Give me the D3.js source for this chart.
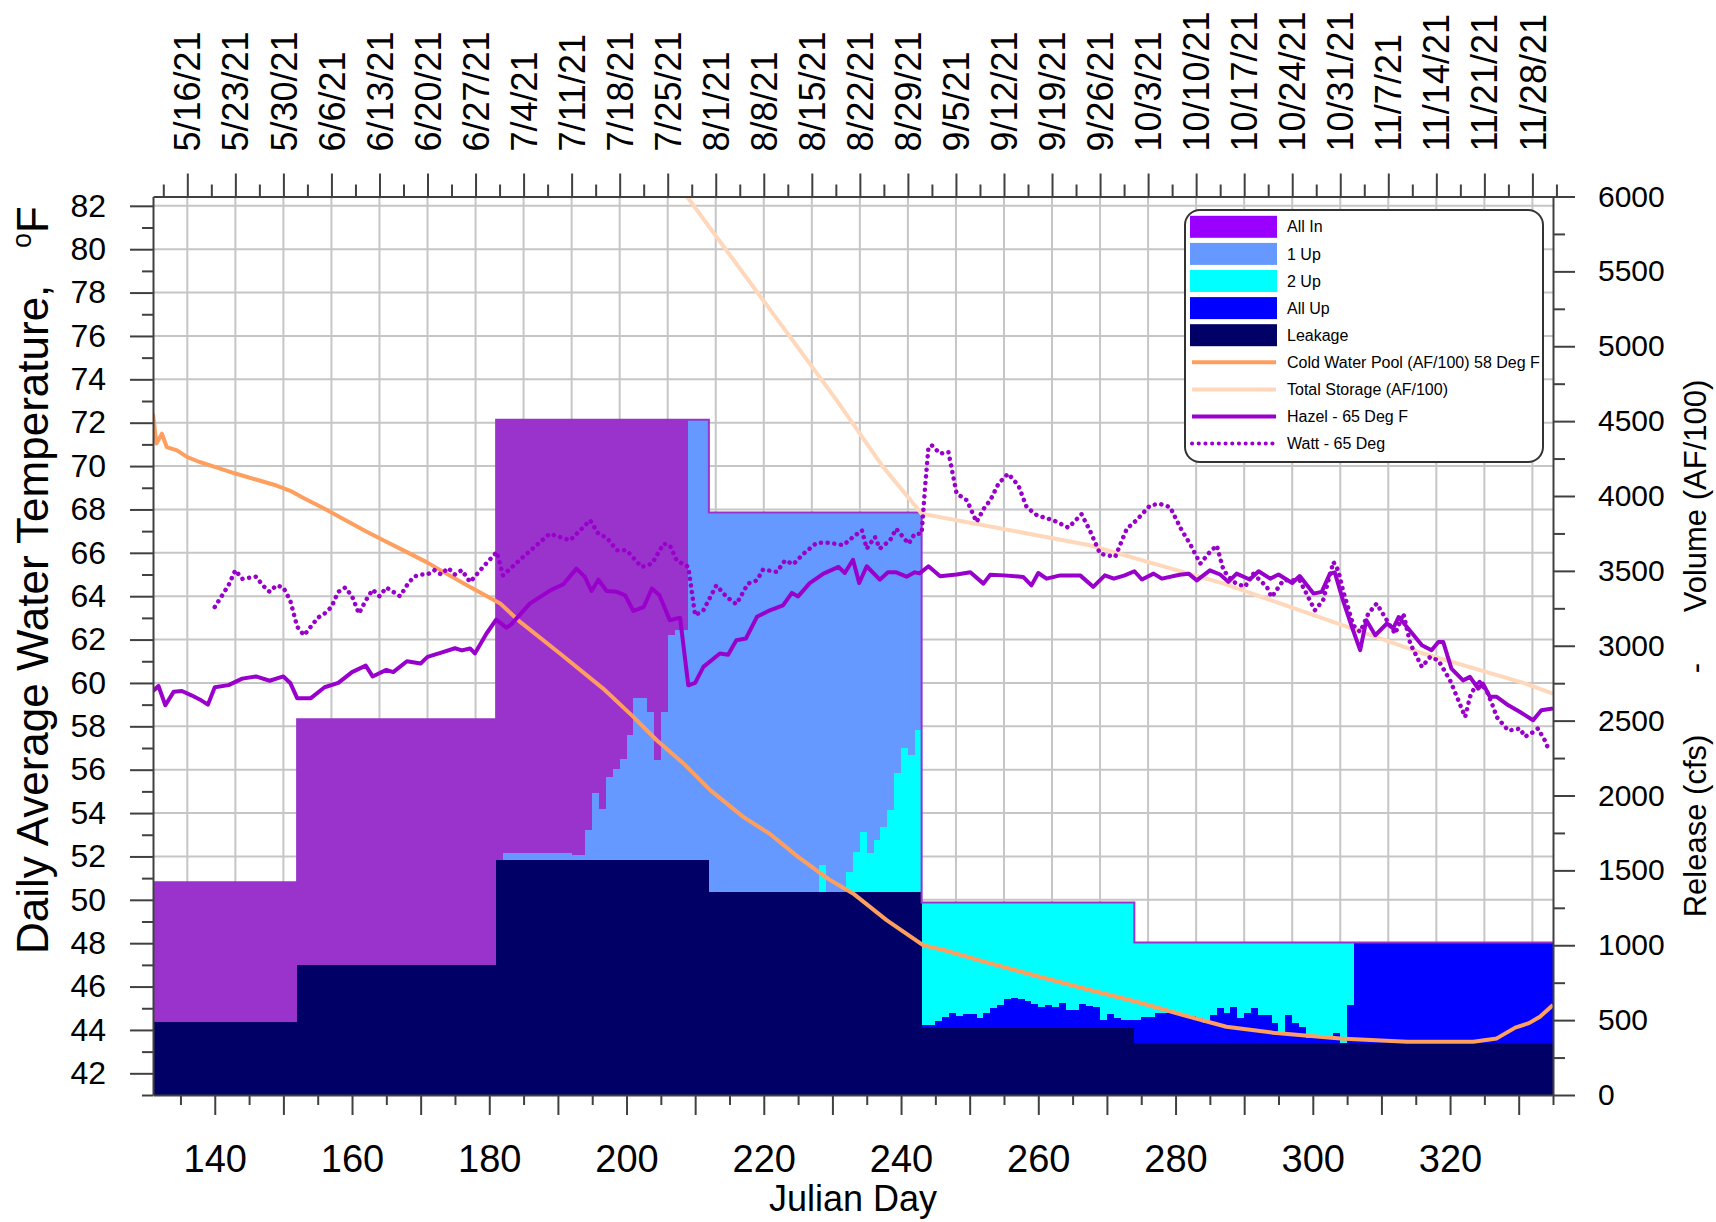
<!DOCTYPE html>
<html>
<head>
<meta charset="utf-8">
<script src="https://cdn.jsdelivr.net/npm/d3@7"></script>
<style>
  body { margin: 0; background: #fff; }
  text { font-family: Arial, "Liberation Sans", sans-serif; fill: #000; }
</style>
</head>
<body>
<svg id="chart" width="1716" height="1222"></svg>
<script>
// ---- data ----
// release components (cfs), as runs: [first Julian day, value] held until the next run
const leakageRuns = [[131, 485], [152, 868], [181, 1568], [212, 1357], [243, 445], [274, 349]]
const allUpRuns = [[131, 0], [243, 22], [245, 49], [246, 78], [247, 105], [248, 83], [249, 96], [251, 69], [252, 105],
  [253, 135], [254, 155], [255, 195], [256, 205], [257, 195], [258, 185], [259, 165], [260, 145], [261, 155], [262, 145],
  [263, 171], [264, 122], [266, 162], [267, 150], [268, 140], [269, 56], [270, 96], [271, 67], [272, 56], [274, 152],
  [275, 174], [277, 196], [278, 201], [280, 185], [281, 178], [283, 163], [284, 129], [285, 185], [286, 230], [287, 196],
  [288, 241], [289, 163], [290, 196], [291, 230], [292, 185], [294, 129], [295, 71], [296, 185], [297, 131], [298, 107],
  [299, 29], [303, 67], [304, 0], [305, 252], [306, 669]]
const twoUpRuns = [[131, 0], [228, 178], [229, 0], [232, 133], [233, 267], [234, 400], [235, 256], [236, 345], [237, 434],
  [238, 545], [239, 790], [240, 957], [241, 912], [242, 1079], [243, 819], [245, 792], [246, 763], [247, 736], [248, 758],
  [249, 745], [251, 772], [252, 736], [253, 706], [254, 686], [255, 646], [256, 636], [257, 646], [258, 656], [259, 676],
  [260, 696], [261, 686], [262, 696], [263, 670], [264, 719], [266, 679], [267, 691], [268, 701], [269, 785], [270, 745],
  [271, 774], [272, 785], [274, 517], [275, 495], [277, 473], [278, 468], [280, 484], [281, 491], [283, 506], [284, 540],
  [285, 484], [286, 439], [287, 473], [288, 428], [289, 506], [290, 473], [291, 439], [292, 484], [294, 540], [295, 598],
  [296, 484], [297, 538], [298, 562], [299, 640], [303, 602], [304, 669], [305, 417], [306, 0]]
const oneUpRuns = [[131, 0], [182, 47], [192, 32], [194, 201], [195, 446], [196, 345], [197, 557], [198, 606], [199, 679],
  [200, 835], [201, 1080], [203, 990], [204, 668], [205, 990], [206, 1502], [207, 1536], [209, 2942], [212, 2533],
  [228, 2355], [229, 2533], [232, 2400], [233, 2266], [234, 2133], [235, 2277], [236, 2188], [237, 2099], [238, 1988],
  [239, 1743], [240, 1576], [241, 1621], [242, 1454], [243, 0]]
const allInRuns = [[131, 935], [152, 1642], [181, 2942], [182, 2895], [192, 2910], [194, 2741], [195, 2496], [196, 2597],
  [197, 2385], [198, 2336], [199, 2263], [200, 2107], [201, 1862], [203, 1952], [204, 2274], [205, 1952], [206, 1440],
  [207, 1406], [209, 0]]

// volumes (AF/100): [Julian day, value]
const coldPool = [[131, 4550], [131.5, 4350], [132.3, 4416], [133, 4327], [134.5, 4305], [136, 4260], [137.8, 4227],
  [140, 4195], [143, 4150], [146, 4110], [149, 4070], [151, 4035], [153, 3985], [156, 3915], [159, 3840], [162, 3765],
  [165, 3695], [168, 3625], [171, 3555], [174, 3475], [177.2, 3393], [181.6, 3282], [184.5, 3159], [190.3, 2948],
  [196.6, 2714], [201, 2525], [204.4, 2369], [208.3, 2214], [212.2, 2036], [217, 1857], [221, 1740], [225, 1590],
  [229.5, 1440], [233, 1346], [237.9, 1168], [243.2, 1001], [246.2, 968], [253, 879], [260.2, 790], [267.5, 701],
  [274.3, 623], [281.1, 534], [287.4, 456], [294.2, 416], [304, 378], [313.7, 356], [323.4, 356], [326.8, 378],
  [329.5, 450], [331.5, 480], [333.1, 523], [335, 601]]
const totalStorage = [[208.8, 6000], [230.6, 4640], [237.4, 4193], [243, 3882], [253, 3796], [267.5, 3671], [287, 3415],
  [306.4, 3104], [316.1, 2948], [330.2, 2759], [335, 2681]]

// temperatures (deg F): [Julian day, value]
const hazel = [[131, 59.63], [131.8, 59.86], [132.8, 58.97], [134, 59.59], [135.2, 59.63], [136.6, 59.43], [137.8, 59.24],
  [139, 59.0], [140, 59.8], [142, 59.9], [144, 60.2], [146, 60.3], [148, 60.1], [150, 60.3], [151, 60.0], [152, 59.3],
  [154, 59.3], [156, 59.8], [158, 60.0], [160, 60.5], [162, 60.8], [163, 60.3], [165, 60.6], [166, 60.5], [168, 61.0],
  [170, 60.9], [171, 61.2], [173, 61.4], [175, 61.6], [176, 61.5], [177.2, 61.59], [177.9, 61.36], [179.6, 62.28],
  [181, 62.92], [182.5, 62.55], [183.2, 62.7], [185.9, 63.66], [188.9, 64.27], [190.8, 64.55], [192.7, 65.27],
  [193.9, 64.9], [194.9, 64.24], [195.9, 64.76], [197.1, 64.24], [198.6, 64.2], [199.8, 64.04], [201, 63.32],
  [202.5, 63.5], [203.7, 64.35], [204.8, 64.04], [206.3, 62.89], [207.8, 63.01], [209, 59.89], [210, 60.0],
  [211.2, 60.74], [213.6, 61.36], [214.8, 61.3], [216, 61.97], [217.4, 62.05], [219, 63.05], [220.9, 63.35],
  [222.8, 63.58], [224.1, 64.15], [225, 63.99], [226.7, 64.6], [228.7, 65.04], [230.9, 65.35], [231.8, 65.07],
  [233, 65.68], [233.9, 64.61], [235, 65.38], [236.9, 64.76], [238.1, 65.1], [239.3, 65.1], [240.8, 64.9], [242, 65.1],
  [242.7, 65.05], [244, 65.38], [245.7, 64.92], [248.1, 65.0], [250.1, 65.1], [252, 64.58], [253, 64.99], [255, 64.96],
  [257.8, 64.89], [259, 64.5], [260, 65.07], [261.2, 64.81], [263.2, 64.96], [266.1, 64.96], [268, 64.43], [269.7, 64.96],
  [271, 64.81], [272.6, 64.96], [274, 65.15], [275.1, 64.77], [276.8, 65.04], [278, 64.81], [280.6, 64.99], [281.9, 65.04],
  [283.1, 64.73], [285, 65.19], [286.5, 65.0], [287.7, 64.66], [288.9, 65.04], [290.8, 64.77], [292.1, 65.15],
  [293.8, 64.81], [295, 65.0], [297, 64.61], [298.1, 64.93], [300.1, 64.12], [301.3, 64.2], [302.5, 65.04], [303.2, 65.1],
  [304.4, 63.81], [305.7, 62.58], [306.9, 61.51], [307.8, 62.89], [309.1, 62.2], [310.8, 62.74], [311.7, 62.51],
  [312.5, 63.04], [313.9, 62.51], [315.9, 61.74], [317.3, 61.51], [318.3, 61.89], [319, 61.89], [320.2, 60.66],
  [321.9, 60.12], [322.9, 60.28], [324.1, 59.74], [324.8, 59.97], [325.8, 59.36], [326.8, 59.36], [328.5, 58.97],
  [330.2, 58.66], [332.1, 58.28], [333.3, 58.74], [335, 58.82]]
const watt = [[140, 63.5], [142, 64.5], [143, 65.2], [144, 64.8], [146, 64.9], [147, 64.5], [148, 64.2], [149, 64.5],
  [150, 64.4], [151, 63.8], [152, 62.6], [153, 62.2], [154, 62.6], [155, 63.0], [156, 63.2], [157, 63.5], [158, 64.2],
  [159, 64.4], [160, 64.0], [161, 63.2], [162, 63.8], [163, 64.3], [164, 64.0], [165, 64.4], [166, 64.2], [167, 64.0],
  [168, 64.5], [169, 64.9], [170, 65.0], [171, 65.0], [172, 65.2], [173, 65.0], [174, 65.3], [175, 65.0], [176, 65.2],
  [177.2, 64.65], [179.1, 65.35], [181.1, 66.04], [182, 64.96], [184.9, 65.8], [188.8, 66.88], [191.8, 66.58],
  [194.7, 67.5], [195.9, 66.88], [197.1, 66.7], [198.6, 66.12], [200, 66.12], [202.2, 65.35], [203.7, 65.5],
  [205.4, 66.42], [206.3, 66.35], [207.3, 65.65], [209, 65.35], [210, 63.12], [211.2, 63.35], [213.1, 64.5],
  [214.6, 63.96], [216, 63.63], [217.7, 64.58], [219, 64.73], [219.9, 65.23], [221.9, 65.12], [223.1, 65.65],
  [224.3, 65.47], [225.8, 65.96], [227.7, 66.46], [229.6, 66.46], [231.6, 66.35], [233, 66.73], [234.3, 67.04],
  [235, 66.19], [236.2, 66.73], [236.9, 66.19], [238.4, 66.58], [239.3, 67.11], [241.1, 66.42], [242, 66.88],
  [243, 66.88], [243.5, 69.03], [244, 70.88], [244.5, 70.95], [245.7, 70.57], [246.9, 70.65], [248.1, 68.73],
  [249.6, 68.42], [251, 67.42], [252.2, 68.11], [253, 68.42], [254.2, 69.19], [255.6, 69.65], [257.1, 69.11],
  [258.3, 68.11], [259.8, 67.73], [262.2, 67.5], [264.4, 67.16], [266.3, 67.78], [267.5, 67.04], [269, 65.96],
  [271.2, 65.81], [272.9, 67.11], [274.3, 67.5], [276.3, 68.19], [277.7, 68.26], [279.2, 68.11], [280.9, 67.04],
  [282.1, 66.42], [283.6, 65.5], [285, 66.04], [286, 66.34], [287, 65.19], [288.4, 64.66], [290.1, 64.43], [291.3, 65.04],
  [293.3, 64.43], [294, 63.96], [295.7, 64.73], [298.1, 64.73], [300.3, 63.35], [301.5, 63.81], [303, 65.58],
  [303.7, 65.19], [304.4, 64.27], [305.9, 62.66], [306.9, 62.35], [308.1, 63.2], [309.3, 63.66], [310.5, 63.04],
  [312, 62.27], [313.2, 63.2], [314.2, 61.81], [315.9, 60.74], [317.1, 61.2], [318.3, 61.04], [320, 60.12],
  [321.4, 59.05], [322.2, 58.43], [322.9, 59.36], [324.1, 60.12], [325.3, 59.66], [326.3, 58.89], [326.8, 58.43],
  [328.5, 57.8], [330.2, 57.9], [330.9, 57.52], [331.8, 57.67], [332.8, 57.9], [333.8, 57.36], [334.5, 56.82]]

// axes
const tempTicks = [42, 44, 46, 48, 50, 52, 54, 56, 58, 60, 62, 64, 66, 68, 70, 72, 74, 76, 78, 80, 82]
const volTicks = [0, 500, 1000, 1500, 2000, 2500, 3000, 3500, 4000, 4500, 5000, 5500, 6000]
const dayTicks = [140, 150, 160, 170, 180, 190, 200, 210, 220, 230, 240, 250, 260, 270, 280, 290, 300, 310, 320, 330]
const dayLabels = [140, 160, 180, 200, 220, 240, 260, 280, 300, 320]
const dateDays = [136, 143, 150, 157, 164, 171, 178, 185, 192, 199, 206, 213, 220, 227, 234, 241, 248, 255, 262, 269,
  276, 283, 290, 297, 304, 311, 318, 325, 332]
const dateLabels = ['5/16/21', '5/23/21', '5/30/21', '6/6/21', '6/13/21', '6/20/21', '6/27/21', '7/4/21', '7/11/21',
  '7/18/21', '7/25/21', '8/1/21', '8/8/21', '8/15/21', '8/22/21', '8/29/21', '9/5/21', '9/12/21', '9/19/21', '9/26/21',
  '10/3/21', '10/10/21', '10/17/21', '10/24/21', '10/31/21', '11/7/21', '11/14/21', '11/21/21', '11/28/21']

const relKeys = ['leakage', 'allUp', 'twoUp', 'oneUp', 'allIn']
const relColors = { leakage: '#000066', allUp: '#0000ff', twoUp: '#00ffff', oneUp: '#6699ff', allIn: '#9933cc' }
const legendNames = ['All In', '1 Up', '2 Up', 'All Up', 'Leakage', 'Cold Water Pool (AF/100) 58 Deg F',
  'Total Storage (AF/100)', 'Hazel - 65 Deg F', 'Watt - 65 Deg']

// ---- layout ----
const M = { left: 153, right: 1553, top: 196.5, bottom: 1095 }
const svg = d3.select('#chart')
const x = d3.scaleLinear().domain([131, 335]).range([M.left, M.right])
const yT = d3.scaleLinear().domain([41, 82.43]).range([M.bottom, M.top])
const yR = d3.scaleLinear().domain([0, 6000]).range([M.bottom, M.top])
const axisColor = '#404040'

svg.append('defs').append('clipPath').attr('id', 'plot')
  .append('rect')
  .attr('x', M.left).attr('y', M.top)
  .attr('width', M.right - M.left).attr('height', M.bottom - M.top)

// grid
const grid = svg.append('g').attr('stroke', '#c6c6c6').attr('stroke-width', 2)
grid.selectAll('line.v').data(dateDays).join('line').attr('class', 'v')
  .attr('x1', d => x(d)).attr('x2', d => x(d)).attr('y1', M.top).attr('y2', M.bottom)
grid.selectAll('line.h').data(tempTicks).join('line').attr('class', 'h')
  .attr('x1', M.left).attr('x2', M.right).attr('y1', d => yT(d)).attr('y2', d => yT(d))

// stacked release
const days = d3.range(131, 336)
function expandRuns(runs) {
  let k = 0
  return days.map(d => {
    while (k + 1 < runs.length && runs[k + 1][0] <= d) k++
    return runs[k][1]
  })
}
const relCols = {
  leakage: expandRuns(leakageRuns), allUp: expandRuns(allUpRuns), twoUp: expandRuns(twoUpRuns),
  oneUp: expandRuns(oneUpRuns), allIn: expandRuns(allInRuns)
}
const rows = days.map((d, i) => {
  const r = { day: d }
  relKeys.forEach(k => { r[k] = relCols[k][i] })
  return r
})
const series = d3.stack().keys(relKeys)(rows)

const area = d3.area().curve(d3.curveStepAfter)
  .x(d => x(d.data.day)).y0(d => yR(d[0])).y1(d => yR(d[1]))

const plot = svg.append('g').attr('clip-path', 'url(#plot)')
plot.append('g').selectAll('path').data(series).join('path')
  .attr('fill', d => relColors[d.key])
  .attr('shape-rendering', 'crispEdges')
  .attr('d', area)

// outline along the top of the release stack
plot.append('path')
  .datum(series[series.length - 1])
  .attr('fill', 'none').attr('stroke', '#9933cc').attr('stroke-width', 2)
  .attr('d', d3.line().curve(d3.curveStepAfter).x(d => x(d.data.day)).y(d => yR(d[1])))

const lineR = d3.line().x(d => x(d[0])).y(d => yR(d[1]))
const lineT = d3.line().x(d => x(d[0])).y(d => yT(d[1]))

plot.append('path').datum(totalStorage)
  .attr('fill', 'none').attr('stroke', '#ffd8bc').attr('stroke-width', 4).attr('d', lineR)
plot.append('path').datum(coldPool)
  .attr('fill', 'none').attr('stroke', '#ff9f5f').attr('stroke-width', 4).attr('stroke-linejoin', 'round').attr('d', lineR)
plot.append('path').datum(hazel)
  .attr('fill', 'none').attr('stroke', '#9900cc').attr('stroke-width', 4).attr('stroke-linejoin', 'round').attr('d', lineT)
plot.append('path').datum(watt)
  .attr('fill', 'none').attr('stroke', '#9900cc').attr('stroke-width', 4.5)
  .attr('stroke-linecap', 'round').attr('stroke-dasharray', '0.1 6.6').attr('d', lineT)

// ---- axes ----
function styleAxis(g, size) {
  g.attr('font-family', 'Arial, "Liberation Sans", sans-serif').attr('font-size', size)
  g.selectAll('.domain').attr('stroke', axisColor).attr('stroke-width', 2)
  g.selectAll('.tick line').attr('stroke', axisColor).attr('stroke-width', 2)
  g.selectAll('.tick text').attr('fill', '#000')
}
function minor(axis, pos, values, size) {
  svg.append('g').attr('transform', pos)
    .call(axis.tickValues(values).tickSize(size).tickFormat(''))
    .call(g => g.select('.domain').remove())
    .call(g => g.selectAll('.tick line').attr('stroke', axisColor).attr('stroke-width', 2))
}

minor(d3.axisLeft(yT), `translate(${M.left},0)`, d3.range(41, 83, 2), 11)
svg.append('g').attr('transform', `translate(${M.left},0)`)
  .call(d3.axisLeft(yT).tickValues(tempTicks).tickSize(23).tickSizeOuter(0).tickPadding(24))
  .call(g => styleAxis(g, 32))

minor(d3.axisRight(yR), `translate(${M.right},0)`, d3.range(250, 6000, 500), 12)
svg.append('g').attr('transform', `translate(${M.right},0)`)
  .call(d3.axisRight(yR).tickValues(volTicks).tickSize(22).tickSizeOuter(0).tickPadding(23)
    .tickFormat(d3.format('d')))
  .call(g => styleAxis(g, 30))

minor(d3.axisBottom(x), `translate(0,${M.bottom})`, d3.range(135, 336, 10), 10)
svg.append('g').attr('transform', `translate(0,${M.bottom})`)
  .call(d3.axisBottom(x).tickValues(dayTicks).tickSize(20).tickSizeOuter(0).tickPadding(30)
    .tickFormat(d => dayLabels.includes(d) ? d : ''))
  .call(g => styleAxis(g, 38))

minor(d3.axisTop(x), `translate(0,${M.top})`, d3.range(132.5, 336, 7), 12)
svg.append('g').attr('transform', `translate(0,${M.top})`)
  .call(d3.axisTop(x).tickValues(dateDays).tickSize(23).tickSizeOuter(0)
    .tickFormat((d, i) => dateLabels[i]))
  .call(g => styleAxis(g, 36))
  .call(g => g.selectAll('.tick text')
    .attr('transform', 'rotate(-90)')
    .attr('x', 45).attr('y', 0).attr('dy', '0.35em')
    .attr('text-anchor', 'start'))

// ---- titles ----
const leftTitle = svg.append('text')
  .attr('transform', 'translate(48,580) rotate(-90)')
  .attr('text-anchor', 'middle').attr('font-size', 44)
  .style('white-space', 'pre')
leftTitle.append('tspan').text('Daily Average Water Temperature,   ')
leftTitle.append('tspan').attr('font-size', 27).attr('dy', -17).text('o')
leftTitle.append('tspan').attr('dy', 17).text('F')

svg.append('text').attr('x', 853).attr('y', 1211)
  .attr('text-anchor', 'middle').attr('font-size', 36).text('Julian Day')

const rightTitle = [['Volume (AF/100)', 496], ['-', 668], ['Release (cfs)', 826]]
svg.append('g').selectAll('text').data(rightTitle).join('text')
  .attr('transform', d => `translate(1706,${d[1]}) rotate(-90)`)
  .attr('text-anchor', 'middle').attr('font-size', 31)
  .text(d => d[0])

// ---- legend ----
const lg = svg.append('g')
lg.append('rect').attr('x', 1185).attr('y', 210).attr('width', 358).attr('height', 252)
  .attr('rx', 15).attr('fill', '#fff').attr('stroke', '#333').attr('stroke-width', 2)
const legendSwatch = ['#9900ff', '#6699ff', '#00ffff', '#0000ff', '#000066']
const legendLines = [
  { color: '#ff9f5f', dash: null },
  { color: '#ffd8bc', dash: null },
  { color: '#9900cc', dash: null },
  { color: '#9900cc', dash: '0.1 6.6' }
]
const rowY = i => 226.8 + i * 27.1
lg.selectAll('rect.sw').data(legendSwatch).join('rect').attr('class', 'sw')
  .attr('x', 1190).attr('y', (d, i) => rowY(i) - 11).attr('width', 87).attr('height', 22)
  .attr('fill', d => d)
lg.selectAll('line.ln').data(legendLines).join('line').attr('class', 'ln')
  .attr('x1', 1192).attr('x2', 1276)
  .attr('y1', (d, i) => rowY(i + 5)).attr('y2', (d, i) => rowY(i + 5))
  .attr('stroke', d => d.color).attr('stroke-width', 4)
  .attr('stroke-linecap', d => d.dash ? 'round' : 'butt')
  .attr('stroke-dasharray', d => d.dash)
lg.selectAll('text').data(legendNames).join('text')
  .attr('x', 1287).attr('y', (d, i) => rowY(i)).attr('dy', '0.35em')
  .attr('font-size', 16).text(d => d)
</script>
</body>
</html>
